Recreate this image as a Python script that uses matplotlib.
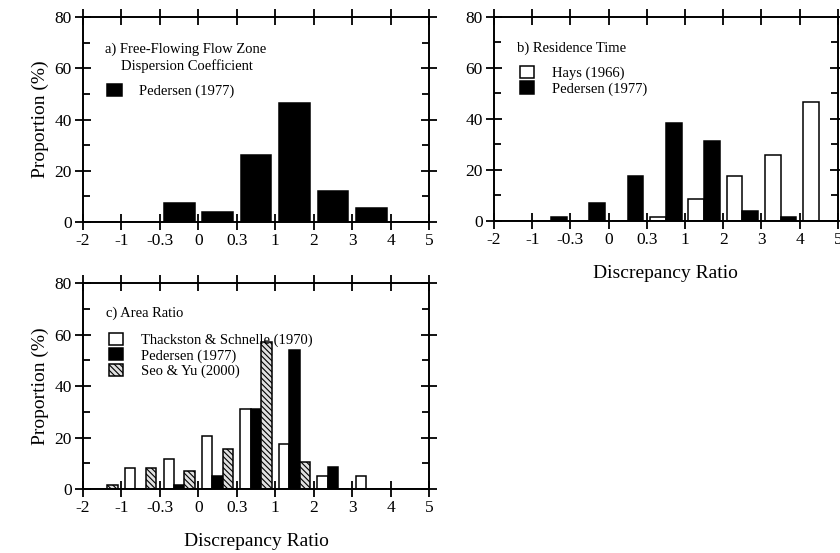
import numpy as np
import matplotlib
matplotlib.use("Agg")
import matplotlib.pyplot as plt
from matplotlib.ticker import MultipleLocator

plt.rcParams['font.family'] = ['Liberation Serif', 'DejaVu Serif']
plt.rcParams['hatch.linewidth'] = 0.8

# bin edges (categorical axis) and the bins between them
tick_labels = ['-2', '-1', '-0.3', '0', '0.3', '1', '2', '3', '4', '5']
nbins = len(tick_labels) - 1

# a) free-flowing flow zone dispersion coefficient
a_pedersen = [0, 0, 7.2, 3.7, 26, 46.6, 12.1, 5.5, 0]

# b) residence time
b_hays = [0, 0, 0, 0, 1.6, 8.7, 17.5, 25.8, 46.4]
b_pedersen = [0, 1.4, 7, 17.5, 38.2, 31.2, 3.8, 1.6, 0]

# c) area ratio
c_thackston = [0, 8.3, 11.8, 20.8, 31, 17.5, 5, 5, 0]
c_pedersen = [0, 0, 1.7, 5, 31, 54, 8.6, 0, 0]
c_seo = [1.6, 8.3, 6.9, 15.4, 57, 10.6, 0, 0, 0]

x = np.arange(nbins) + 0.5


def style_axes(ax):
    ax.set_xlim(0, nbins)
    ax.set_ylim(0, 80)
    ax.set_xticks(np.arange(len(tick_labels)))
    ax.set_xticklabels(tick_labels)
    ax.yaxis.set_major_locator(MultipleLocator(20))
    ax.yaxis.set_minor_locator(MultipleLocator(10))
    ax.tick_params(which='major', direction='inout', length=12, width=1.3,
                   top=True, right=True, labelsize=12.5, pad=2)
    ax.tick_params(which='minor', direction='in', length=5, width=1.3,
                   left=True, right=True)
    ax.tick_params(axis='x', which='minor', bottom=False, top=False)
    for s in ax.spines.values():
        s.set_linewidth(1.4)


fig = plt.figure(figsize=(8.4, 5.53), dpi=100)
ax_a = fig.add_axes([0.0988, 0.599, 0.412, 0.3696])
ax_b = fig.add_axes([0.588, 0.6004, 0.4095, 0.3694])
ax_c = fig.add_axes([0.0988, 0.1157, 0.412, 0.372])

bar_kw = dict(edgecolor='black', linewidth=1.1)
leg_kw = dict(loc='upper left', frameon=False, fontsize=10.5, handlelength=1.0,
              handleheight=0.9, handletextpad=1.2, labelspacing=0.1, borderpad=0.2)

# panel a
ax_a.bar(x, a_pedersen, width=0.8, color='black', label='Pedersen (1977)', **bar_kw)
style_axes(ax_a)
ax_a.set_ylabel('Proportion (%)', fontsize=14)
ax_a.text(0.064, 0.845, 'a) Free-Flowing Flow Zone', transform=ax_a.transAxes,
          fontsize=10.5, va='center')
ax_a.text(0.11, 0.76, 'Dispersion Coefficient', transform=ax_a.transAxes,
          fontsize=10.5, va='center')
ax_a.legend(bbox_to_anchor=(0.04, 0.725), **leg_kw)

# panel b
w2 = 0.41
ax_b.bar(x - w2 / 2, b_hays, width=w2, color='white', label='Hays (1966)', **bar_kw)
ax_b.bar(x + w2 / 2, b_pedersen, width=w2, color='black', label='Pedersen (1977)', **bar_kw)
style_axes(ax_b)
ax_b.set_xlabel('Discrepancy Ratio', fontsize=14, labelpad=12)
ax_b.text(0.067, 0.847, 'b) Residence Time', transform=ax_b.transAxes,
          fontsize=10.5, va='center')
ax_b.legend(bbox_to_anchor=(0.045, 0.81), **leg_kw)

# panel c
w3 = 0.27
ax_c.bar(x - w3, c_thackston, width=w3, color='white',
         label='Thackston & Schnelle (1970)', **bar_kw)
ax_c.bar(x, c_pedersen, width=w3, color='black', label='Pedersen (1977)', **bar_kw)
ax_c.bar(x + w3, c_seo, width=w3, color='#e0e0e0', hatch='\\\\\\\\\\\\',
         label='Seo & Yu (2000)', **bar_kw)
style_axes(ax_c)
ax_c.set_ylabel('Proportion (%)', fontsize=14)
ax_c.set_xlabel('Discrepancy Ratio', fontsize=14, labelpad=12)
ax_c.text(0.066, 0.856, 'c) Area Ratio', transform=ax_c.transAxes,
          fontsize=10.5, va='center')
ax_c.legend(bbox_to_anchor=(0.045, 0.81), **leg_kw)

fig.savefig('out.png', dpi=100)
